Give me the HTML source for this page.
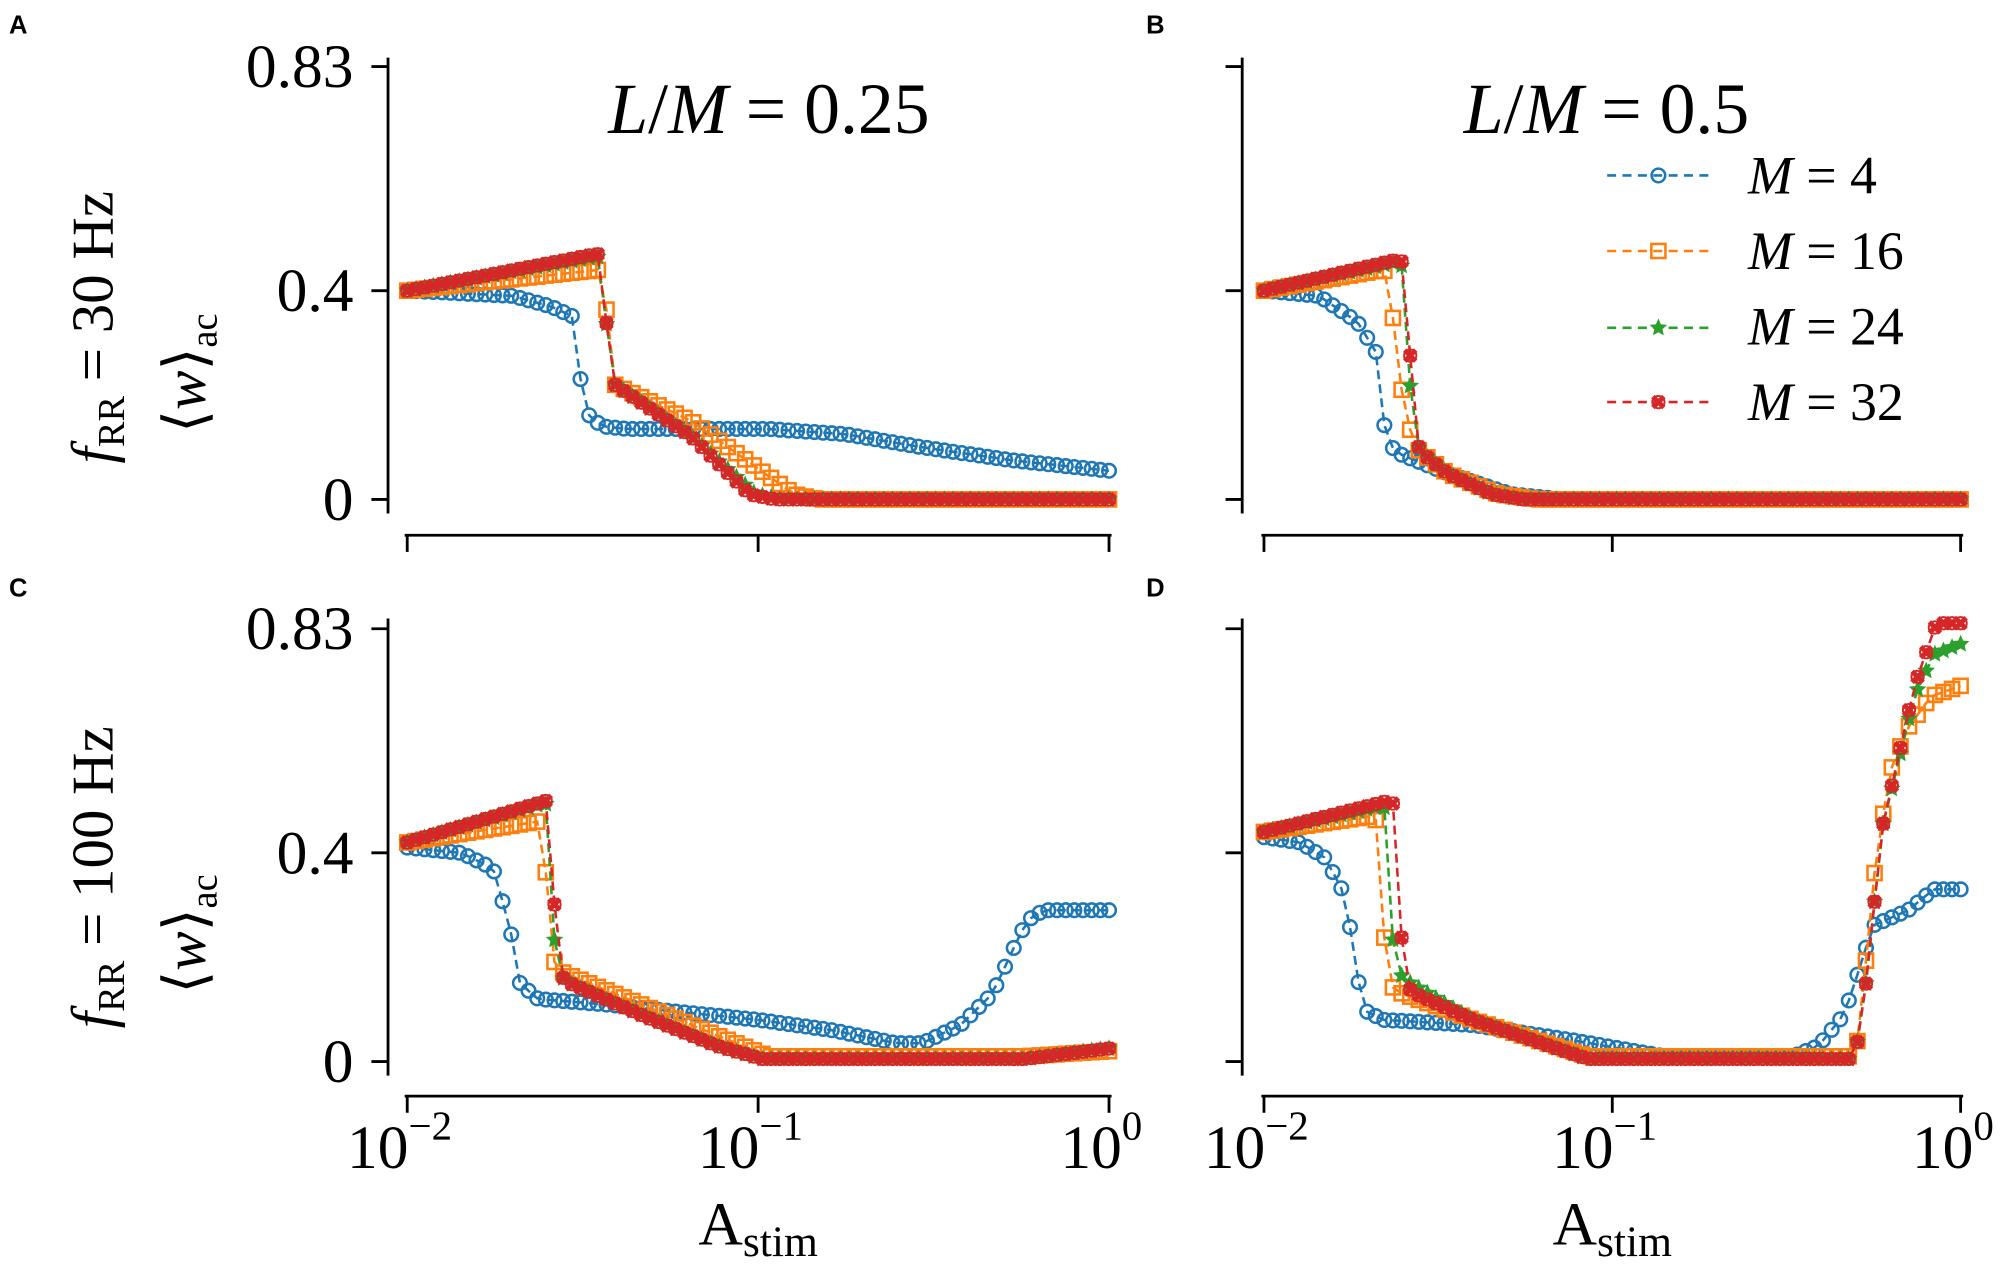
<!DOCTYPE html>
<html><head><meta charset="utf-8">
<style>
html,body{margin:0;padding:0;background:#fff;}
svg{display:block;}
text{font-family:"Liberation Serif",serif;fill:#000;}
.pl{font-family:"Liberation Sans",sans-serif;font-weight:bold;font-size:20px;}
</style></head>
<body>
<svg id="s" width="2008" height="1269" viewBox="0 0 1568 991" preserveAspectRatio="none" xmlns="http://www.w3.org/2000/svg">
<g stroke="#000" stroke-width="2.2" fill="none">
<line x1="303" y1="45" x2="303" y2="401"/>
<line x1="290" y1="52" x2="303" y2="52"/><line x1="290" y1="227" x2="303" y2="227"/><line x1="290" y1="390" x2="303" y2="390"/>
<line x1="316" y1="418" x2="868" y2="418"/>
<line x1="318" y1="418" x2="318" y2="431"/><line x1="592" y1="418" x2="592" y2="431"/><line x1="866" y1="418" x2="866" y2="431"/>
<line x1="970" y1="45" x2="970" y2="401"/>
<line x1="957" y1="52" x2="970" y2="52"/><line x1="957" y1="227" x2="970" y2="227"/><line x1="957" y1="390" x2="970" y2="390"/>
<line x1="985" y1="418" x2="1533" y2="418"/>
<line x1="987" y1="418" x2="987" y2="431"/><line x1="1259" y1="418" x2="1259" y2="431"/><line x1="1531" y1="418" x2="1531" y2="431"/>
<line x1="303" y1="483" x2="303" y2="840"/>
<line x1="290" y1="491" x2="303" y2="491"/><line x1="290" y1="666" x2="303" y2="666"/><line x1="290" y1="829" x2="303" y2="829"/>
<line x1="316" y1="856" x2="868" y2="856"/>
<line x1="318" y1="856" x2="318" y2="869"/><line x1="592" y1="856" x2="592" y2="869"/><line x1="866" y1="856" x2="866" y2="869"/>
<line x1="970" y1="483" x2="970" y2="840"/>
<line x1="957" y1="491" x2="970" y2="491"/><line x1="957" y1="666" x2="970" y2="666"/><line x1="957" y1="829" x2="970" y2="829"/>
<line x1="985" y1="856" x2="1533" y2="856"/>
<line x1="987" y1="856" x2="987" y2="869"/><line x1="1259" y1="856" x2="1259" y2="869"/><line x1="1531" y1="856" x2="1531" y2="869"/>
</g>
<text class="pl" x="7" y="26">A</text>
<text class="pl" x="895" y="26">B</text>
<text class="pl" x="7" y="466">C</text>
<text class="pl" x="895" y="466">D</text>
<g font-size="48" text-anchor="end">
<text x="276" y="68">0.83</text><text x="276" y="243">0.4</text><text x="276" y="406">0</text>
<text x="276" y="507">0.83</text><text x="276" y="682">0.4</text><text x="276" y="845">0</text>
</g>
<text x="475" y="104" font-size="56"><tspan font-style="italic">L</tspan>/<tspan font-style="italic">M</tspan> = 0.25</text>
<text x="1143" y="104" font-size="56"><tspan font-style="italic">L</tspan>/<tspan font-style="italic">M</tspan> = 0.5</text>
<g font-size="46">
<text transform="translate(88,362) rotate(-90)"><tspan font-style="italic">f</tspan><tspan font-size="30" dy="9">RR</tspan><tspan dy="-9"> = 30 Hz</tspan></text>
<text transform="translate(160,338) rotate(-90)">⟨<tspan font-style="italic">w</tspan>⟩<tspan font-size="30" dy="9">ac</tspan></text>
<text transform="translate(88,803) rotate(-90)"><tspan font-style="italic">f</tspan><tspan font-size="30" dy="9">RR</tspan><tspan dy="-9"> = 100 Hz</tspan></text>
<text transform="translate(160,776) rotate(-90)">⟨<tspan font-style="italic">w</tspan>⟩<tspan font-size="30" dy="9">ac</tspan></text>
</g>
<g font-size="48" text-anchor="middle">
<text x="312" y="912">10<tspan font-size="32" dy="-22">−2</tspan></text>
<text x="586" y="912">10<tspan font-size="32" dy="-22">−1</tspan></text>
<text x="860" y="912">10<tspan font-size="32" dy="-22">0</tspan></text>
<text x="981" y="912">10<tspan font-size="32" dy="-22">−2</tspan></text>
<text x="1253" y="912">10<tspan font-size="32" dy="-22">−1</tspan></text>
<text x="1525" y="912">10<tspan font-size="32" dy="-22">0</tspan></text>
<text x="592" y="972">A<tspan font-size="34" dy="9">stim</tspan></text>
<text x="1259" y="972">A<tspan font-size="34" dy="9">stim</tspan></text>
</g>
<g font-size="42">
<text x="1365" y="151"><tspan font-style="italic">M</tspan> = 4</text>
<text x="1365" y="210"><tspan font-style="italic">M</tspan> = 16</text>
<text x="1365" y="269"><tspan font-style="italic">M</tspan> = 24</text>
<text x="1365" y="328"><tspan font-style="italic">M</tspan> = 32</text>
</g>
<g id="data"></g>
</svg>
<script>
(function(){
var NS="http://www.w3.org/2000/svg";
var C={b:"#1f77b4",o:"#ff7f0e",g:"#2ca02c",r:"#d62728"};
var g=document.getElementById("data");
function el(tag,attrs){var e=document.createElementNS(NS,tag);for(var k in attrs){e.setAttribute(k,String(attrs[k]));}g.appendChild(e);return e;}
function f(n){return (Math.round(n*10)/10).toString();}
function interp(k,x){for(var i=1;i<k.length;i++){if(x<=k[i][0]){var a=k[i-1],b=k[i];var d=b[0]-a[0];var t=d?(x-a[0])/d:1;return a[1]+t*(b[1]-a[1]);}}return k[k.length-1][1];}
function marker(t,x,y){var c=C[t];
 if(t==="b"){el("circle",{cx:f(x),cy:f(y),r:5.3,fill:"none",stroke:c,"stroke-width":2});return;}
 if(t==="o"){el("rect",{x:f(x-5.5),y:f(y-5.5),width:11,height:11,fill:"none",stroke:c,"stroke-width":2});return;}
 if(t==="g"){var p=[];for(var i=0;i<10;i++){var r=(i%2)?2.8:6,a=-Math.PI/2+i*Math.PI/5;p.push(f(x+r*Math.cos(a))+","+f(y+r*Math.sin(a)));}el("polygon",{points:p.join(" "),fill:c,stroke:c,"stroke-width":1});return;}
 var d=4.3;
 el("path",{d:"M"+f(x-d)+" "+f(y-d)+"L"+f(x+d)+" "+f(y+d)+"M"+f(x-d)+" "+f(y+d)+"L"+f(x+d)+" "+f(y-d),stroke:c,"stroke-width":3.8,fill:"none"});
 el("circle",{cx:f(x),cy:f(y),r:4.8,fill:"none",stroke:c,"stroke-width":1.5});}
function series(t,x0,x1,y0,keys){var N=82,pts=[];for(var i=0;i<N;i++){var x=x0+(x1-x0)*i/(N-1);pts.push([x,y0-407.5*interp(keys,x)]);}
 var d="";for(var j=0;j<pts.length;j++){d+=(j?"L":"M")+f(pts[j][0])+" "+f(pts[j][1]);}
 el("path",{d:d,fill:"none",stroke:C[t],"stroke-width":2,"stroke-dasharray":"7,4"});
 for(var m=0;m<pts.length;m++){marker(t,pts[m][0],pts[m][1]);}}
series("b",318,866,390,[[318,.40],[400,.39],[430,.37],[448,.35],[452,.26],[456,.17],[470,.14],[490,.135],[600,.135],[660,.125],[720,.1],[790,.075],[866,.055]]);
series("o",318,866,390,[[318,.40],[468,.44],[472,.44],[476,.25],[480,.22],[540,.15],[580,.08],[620,.01],[640,0],[866,0]]);
series("g",318,866,390,[[318,.40],[465,.465],[470,.465],[476,.25],[480,.22],[540,.12],[590,.01],[610,0],[866,0]]);
series("r",318,866,390,[[318,.40],[465,.47],[470,.47],[476,.25],[480,.22],[540,.12],[585,.01],[605,0],[866,0]]);
series("b",987,1531,390,[[987,.40],[1030,.39],[1060,.34],[1075,.28],[1082,.12],[1090,.09],[1130,.05],[1180,.01],[1220,0],[1531,0]]);
series("o",987,1531,390,[[987,.40],[1080,.44],[1085,.43],[1090,.28],[1097,.17],[1105,.10],[1130,.05],[1170,.01],[1200,0],[1531,0]]);
series("g",987,1531,390,[[987,.40],[1092,.455],[1097,.44],[1103,.12],[1110,.09],[1130,.05],[1165,.01],[1190,0],[1531,0]]);
series("r",987,1531,390,[[987,.40],[1092,.46],[1098,.45],[1104,.12],[1110,.09],[1130,.05],[1165,.01],[1190,0],[1531,0]]);
series("b",318,866,829,[[318,.41],[360,.40],[385,.37],[398,.26],[406,.15],[420,.12],[470,.11],[592,.08],[650,.06],[700,.035],[720,.035],[750,.07],[775,.13],[792,.22],[802,.27],[815,.29],[866,.29]]);
series("o",318,866,829,[[318,.42],[420,.46],[424,.46],[430,.20],[440,.17],[500,.11],[560,.05],[600,.01],[800,.01],[866,.02]]);
series("g",318,866,829,[[318,.42],[425,.495],[429,.49],[434,.17],[445,.15],[500,.09],[560,.03],[595,.005],[800,.005],[866,.025]]);
series("r",318,866,829,[[318,.42],[427,.50],[430,.50],[435,.17],[445,.15],[500,.09],[560,.03],[595,.005],[800,.005],[866,.025]]);
series("b",987,1531,829,[[987,.43],[1015,.42],[1035,.39],[1050,.32],[1058,.2],[1064,.1],[1080,.08],[1150,.07],[1230,.04],[1300,.01],[1400,.01],[1420,.03],[1440,.09],[1455,.2],[1462,.26],[1490,.29],[1510,.33],[1531,.33]]);
series("o",987,1531,829,[[987,.44],[1070,.47],[1076,.46],[1083,.15],[1095,.13],[1150,.08],[1240,.01],[1446,.01],[1452,.05],[1462,.33],[1475,.55],[1490,.64],[1508,.70],[1531,.72]]);
series("g",987,1531,829,[[987,.44],[1080,.49],[1083,.48],[1088,.22],[1095,.16],[1150,.08],[1240,.005],[1448,.005],[1455,.1],[1470,.45],[1495,.70],[1510,.78],[1531,.80]]);
series("r",987,1531,829,[[987,.44],[1085,.50],[1090,.49],[1096,.15],[1105,.13],[1150,.08],[1240,.005],[1448,.005],[1455,.1],[1470,.45],[1495,.72],[1512,.84],[1531,.84]]);
var L=[["b",137],["o",196],["g",256],["r",314]];
for(var i=0;i<L.length;i++){el("line",{x1:1255,y1:L[i][1],x2:1335,y2:L[i][1],stroke:C[L[i][0]],"stroke-width":2,"stroke-dasharray":"7,5"});marker(L[i][0],1295,L[i][1]);}
})();
</script>
</body></html>
